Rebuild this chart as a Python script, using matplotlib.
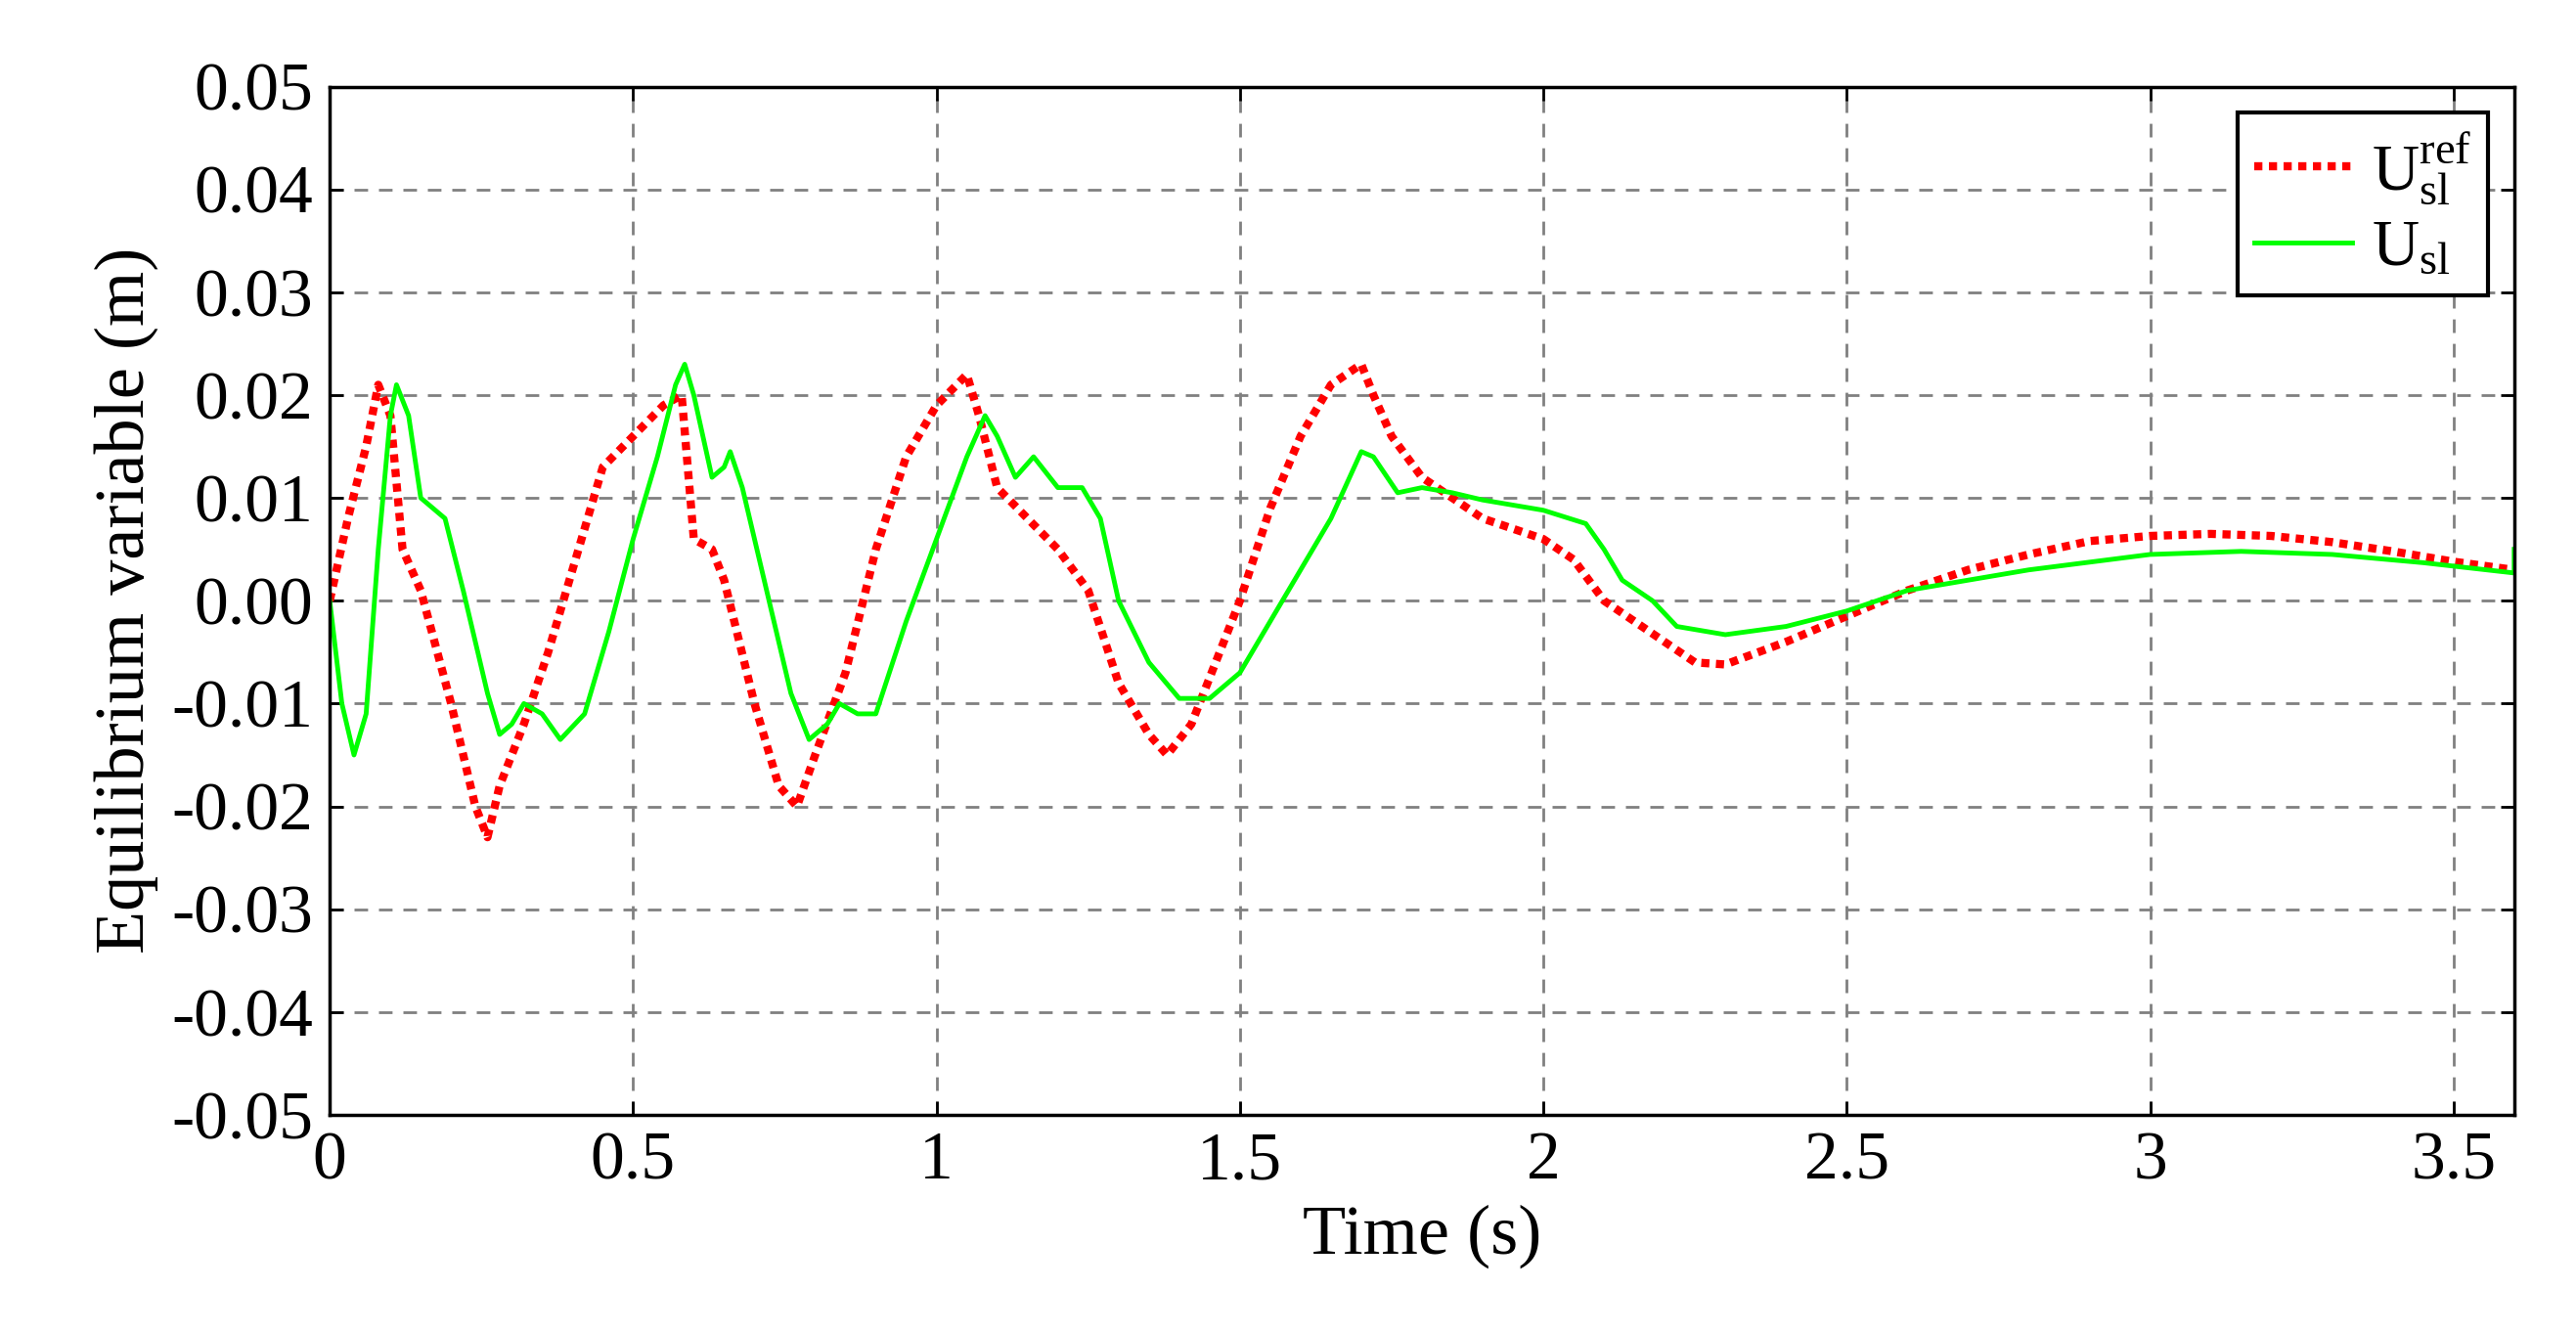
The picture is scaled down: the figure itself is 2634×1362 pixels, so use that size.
import matplotlib
matplotlib.use("Agg")
import matplotlib.pyplot as plt

plt.rcParams["font.family"] = ["Liberation Serif", "DejaVu Serif"]
plt.rcParams["mathtext.fontset"] = "custom"
plt.rcParams["mathtext.rm"] = "Liberation Serif"

# values
t_ref = [0, 0.03, 0.06, 0.08, 0.1, 0.12, 0.15, 0.2, 0.24, 0.26, 0.28, 0.32, 0.36, 0.4, 0.45,
         0.5, 0.55, 0.58, 0.6, 0.63, 0.65, 0.7, 0.74, 0.77, 0.8, 0.85, 0.9, 0.95, 1.0, 1.05,
         1.07, 1.1, 1.15, 1.2, 1.25, 1.3, 1.35, 1.38, 1.42, 1.5, 1.55, 1.6, 1.65, 1.7, 1.72,
         1.75, 1.8, 1.9, 2.0, 2.05, 2.1, 2.15, 2.25, 2.3, 2.4, 2.5, 2.6, 2.7, 2.8, 2.9, 3.0,
         3.1, 3.2, 3.3, 3.4, 3.5, 3.6]
u_ref = [0, 0.008, 0.015, 0.021, 0.018, 0.005, 0.001, -0.01, -0.02, -0.023, -0.018, -0.012,
         -0.005, 0.003, 0.013, 0.016, 0.019, 0.02, 0.006, 0.005, 0.002, -0.01, -0.018, -0.02,
         -0.015, -0.007, 0.005, 0.014, 0.019, 0.022, 0.018, 0.011, 0.008, 0.005, 0.001, -0.008,
         -0.013, -0.015, -0.012, 0.0, 0.009, 0.016, 0.021, 0.023, 0.02, 0.016, 0.012, 0.008,
         0.006, 0.004, 0.0, -0.002, -0.006, -0.0062, -0.004, -0.0015, 0.001, 0.003, 0.0045,
         0.0058, 0.0063, 0.0065, 0.0063, 0.0057, 0.0048, 0.0038, 0.003]

t_sl = [0, 0.02, 0.04, 0.06, 0.08, 0.1, 0.11, 0.13, 0.15, 0.17, 0.19, 0.22, 0.26, 0.28, 0.3,
        0.32, 0.35, 0.38, 0.42, 0.46, 0.5, 0.54, 0.57, 0.585, 0.6, 0.63, 0.65, 0.66, 0.68,
        0.72, 0.76, 0.79, 0.82, 0.84, 0.87, 0.9, 0.95, 1.0, 1.05, 1.08, 1.1, 1.13, 1.16, 1.2,
        1.24, 1.27, 1.3, 1.35, 1.4, 1.45, 1.5, 1.55, 1.6, 1.65, 1.7, 1.72, 1.76, 1.8, 1.85,
        1.9, 2.0, 2.07, 2.1, 2.13, 2.18, 2.22, 2.3, 2.4, 2.5, 2.6, 2.7, 2.8, 3.0, 3.15, 3.3,
        3.45, 3.6, 3.6]
u_sl = [0, -0.01, -0.015, -0.011, 0.005, 0.018, 0.021, 0.018, 0.01, 0.009, 0.008, 0.001,
        -0.009, -0.013, -0.012, -0.010, -0.011, -0.0135, -0.011, -0.003, 0.006, 0.014, 0.021,
        0.023, 0.02, 0.012, 0.013, 0.0145, 0.011, 0.001, -0.009, -0.0135, -0.012, -0.010,
        -0.011, -0.011, -0.002, 0.006, 0.014, 0.018, 0.016, 0.012, 0.014, 0.011, 0.011, 0.008,
        0.0, -0.006, -0.0095, -0.0095, -0.007, -0.002, 0.003, 0.008, 0.0145, 0.014, 0.0105,
        0.011, 0.0105, 0.0098, 0.0088, 0.0075, 0.005, 0.002, 0.0, -0.0025, -0.0033, -0.0025,
        -0.001, 0.001, 0.002, 0.003, 0.0045, 0.0048, 0.0045, 0.0037, 0.0027, 0.005]

yticks = [-0.05, -0.04, -0.03, -0.02, -0.01, 0.0, 0.01, 0.02, 0.03, 0.04, 0.05]
xticks = [0, 0.5, 1, 1.5, 2, 2.5, 3, 3.5]

fig = plt.figure(figsize=(26.34, 13.62), dpi=100)
ax = fig.add_axes([0.128, 0.163, 0.848, 0.772])

ax.plot(t_ref, u_ref, color="#ff0000", linestyle=(0, (1, 0.8)), linewidth=6,
        label=r"$\mathrm{U_{sl}^{ref}}$")
ax.plot(t_sl, u_sl, color="#00ff00", linewidth=3.5, label=r"$\mathrm{U_{sl}}$")

ax.set_xlim(0, 3.6)
ax.set_ylim(-0.05, 0.05)
ax.set_xticks(xticks)
ax.set_xticklabels([f"{x:g}" for x in xticks])
ax.set_yticks(yticks)
ax.set_yticklabels([f"{y:.2f}" for y in yticks])
ax.tick_params(direction="in", labelsize=50, length=10, width=2, top=True, right=True, pad=12)
ax.set_xlabel("Time (s)", fontsize=52, labelpad=8)
ax.set_ylabel("Equilibrium variable (m)", fontsize=52, labelpad=10)
ax.grid(True, linestyle=(0, (5, 4)), color="#808080", linewidth=2)
for s in ax.spines.values():
    s.set_linewidth(2.5)

leg = ax.legend(loc="upper right", fontsize=48, fancybox=False, edgecolor="black",
                framealpha=1, handlelength=1.5, handletextpad=0.3,
                borderaxespad=0.4, borderpad=0.25, labelspacing=0.2)
leg.get_frame().set_linewidth(3)

fig.savefig("out.png", dpi=100)
